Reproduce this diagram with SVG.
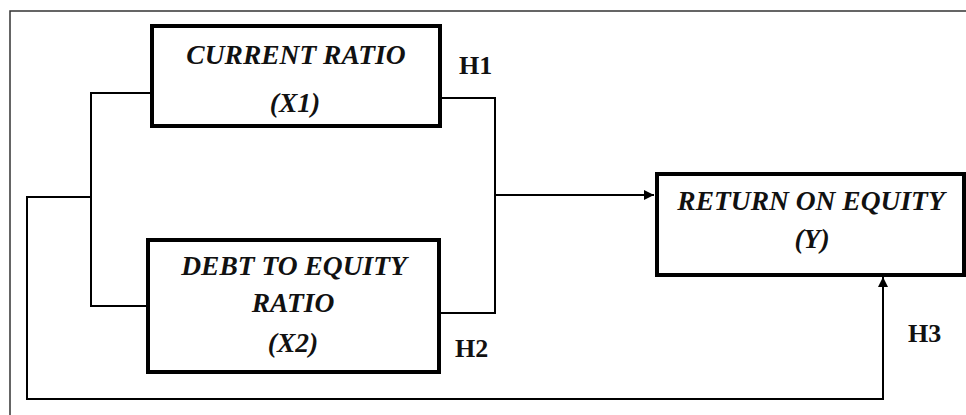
<svg xmlns="http://www.w3.org/2000/svg" width="966" height="415" viewBox="0 0 966 415">
<style>
.box{fill:#fff;stroke:#000;stroke-width:4}
.lbl{font-family:"Liberation Serif","Times New Roman",serif;font-weight:bold;font-style:italic;font-size:27.5px;text-anchor:middle;fill:#111}
.h{font-family:"Liberation Serif","Times New Roman",serif;font-weight:bold;font-size:26px;fill:#111}
.c{fill:none;stroke:#000;stroke-width:2}
</style>
<defs>
<marker id="arr" viewBox="0 0 10 10" refX="10" refY="5" markerWidth="10" markerHeight="10" markerUnits="userSpaceOnUse" orient="auto">
<path d="M0,0 L10,5 L0,10 z" fill="#000"/>
</marker>
</defs>
<rect width="966" height="415" fill="#fff"/>
<path d="M10,415 V11 H966" fill="none" stroke="#333" stroke-width="1.5"/>
<g id="connectors">
<path class="c" d="M152,93 H91 V306 H148"/>
<path class="c" d="M91,197 H27 V399 H883 V277" marker-end="url(#arr)"/>
<path class="c" d="M435,98 H495 V313 H433"/>
<path class="c" d="M495,195 H654" marker-end="url(#arr)"/>
</g>
<g id="x1">
<rect class="box" x="152" y="26" width="288" height="100"/>
<text class="lbl" x="296" y="64">CURRENT RATIO</text>
<text class="lbl" x="295" y="112">(X1)</text>
</g>
<g id="x2">
<rect class="box" x="148" y="240" width="291" height="132"/>
<text class="lbl" x="294" y="275">DEBT TO EQUITY</text>
<text class="lbl" x="293" y="312">RATIO</text>
<text class="lbl" x="293" y="352">(X2)</text>
</g>
<g id="y">
<rect class="box" x="657" y="174" width="307" height="101"/>
<text class="lbl" x="811" y="210">RETURN ON EQUITY</text>
<text class="lbl" x="812" y="248">(Y)</text>
</g>
<g id="hyp">
<text class="h" x="459" y="74">H1</text>
<text class="h" x="455" y="357">H2</text>
<text class="h" x="908" y="342">H3</text>
</g>
</svg>
